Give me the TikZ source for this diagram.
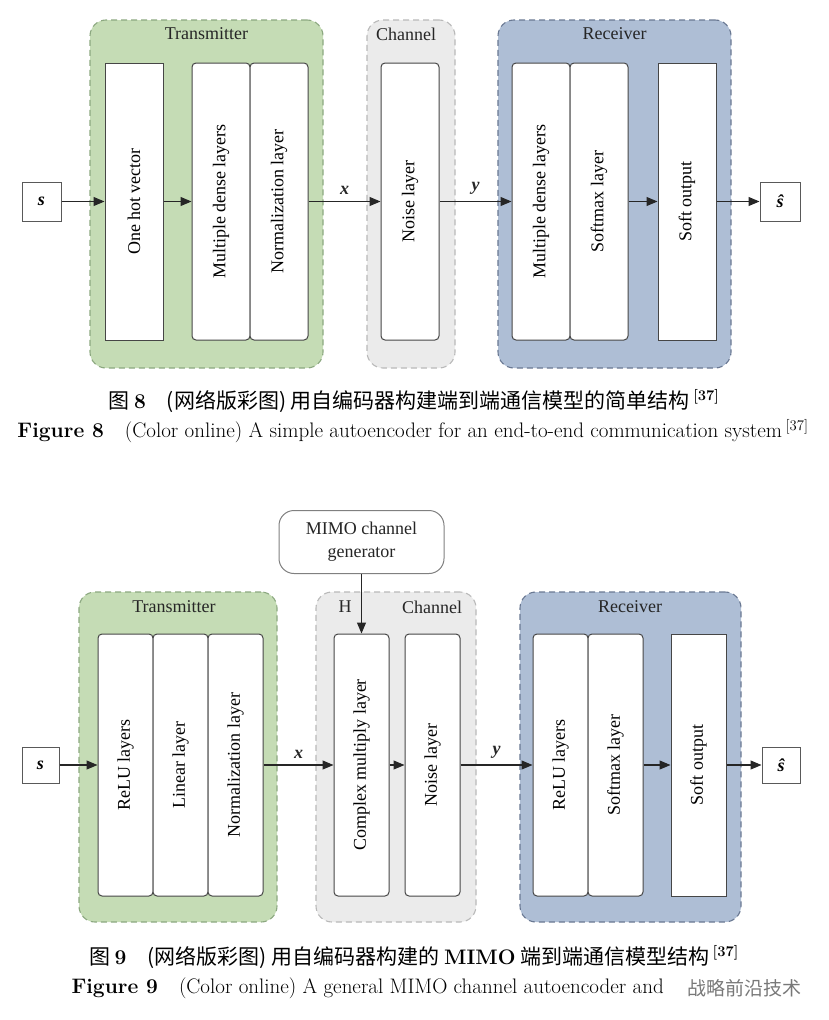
\documentclass[tikz,border=0pt]{standalone}
\usepackage{fontspec}
\usepackage{graphicx}
\usetikzlibrary{arrows.meta, positioning}
\newfontfamily\timesfont{Liberation Serif}
\newfontfamily\cjk{Noto Sans CJK SC}
\definecolor{txgreen}{RGB}{197, 220, 181}
\definecolor{txedge}{RGB}{140, 168, 128}
\definecolor{chgray}{RGB}{235, 235, 235}
\definecolor{chedge}{RGB}{185, 185, 185}
\definecolor{rxblue}{RGB}{174, 190, 213}
\definecolor{rxedge}{RGB}{105, 120, 146}
\definecolor{layeredge}{RGB}{70, 70, 70}
\definecolor{wmgray}{RGB}{120, 120, 120}

\begin{document}
\begin{tikzpicture}[
        x=1pt, y=-1pt,
        group/.style={rectangle, rounded corners=16pt, dash pattern=on 6pt off 4pt, line width=1.1pt, inner sep=0pt},
        txgroup/.style={group, draw=txedge, fill=txgreen},
        chgroup/.style={group, draw=chedge, fill=chgray},
        rxgroup/.style={group, draw=rxedge, fill=rxblue},
        title/.style={font=\timesfont\fontsize{18}{20}\selectfont, text=black!85},
        layer/.style={rectangle, draw=layeredge, fill=white, line width=1pt, rounded corners=4pt, inner sep=0pt, font=\timesfont\fontsize{18}{20}\selectfont},
        sharplayer/.style={layer, sharp corners},
        sym/.style={rectangle, draw=black!65, fill=white, line width=1pt, inner sep=0pt, font=\timesfont\bfseries\itshape\fontsize{18}{20}\selectfont},
        arr/.style={-{Triangle[length=11pt, width=9pt]}, line width=1.1pt, black!85},
        vlabel/.style={font=\timesfont\bfseries\itshape\fontsize{18}{20}\selectfont}
      ]
        \useasboundingbox (0,0) rectangle (828,1020);

        % Figure 8
        \node[txgroup, minimum width=233pt, minimum height=348pt] (txA) at (206.5,194) {};
        \node[chgroup, minimum width=88pt, minimum height=348pt] (chA) at (411,194) {};
        \node[rxgroup, minimum width=233pt, minimum height=348pt] (rxA) at (614.5,194) {};
        \node[title] (txAlbl) at (206.5,34) {Transmitter};
        \node[title] (chAlbl) at (406,34) {Channel};
        \node[title] (rxAlbl) at (614.5,34) {Receiver};

        \node[sym, minimum width=39pt, minimum height=39pt] (sA) at (41.5,201.5) {s};
        \node[sharplayer, minimum width=58pt, minimum height=277pt] (onehot) at (134,201.5) {\rotatebox{90}{One hot vector}};
        \node[layer, minimum width=58pt, minimum height=277pt] (denseA) at (221,201.5) {\rotatebox{90}{Multiple dense layers}};
        \node[layer, minimum width=58pt, minimum height=277pt] (normA) at (279,201.5) {\rotatebox{90}{Normalization layer}};
        \node[layer, minimum width=58pt, minimum height=277pt] (noiseA) at (410,201.5) {\rotatebox{90}{Noise layer}};
        \node[layer, minimum width=58pt, minimum height=277pt] (rdenseA) at (541,201.5) {\rotatebox{90}{Multiple dense layers}};
        \node[layer, minimum width=58pt, minimum height=277pt] (softmaxA) at (599,201.5) {\rotatebox{90}{Softmax layer}};
        \node[sharplayer, minimum width=58pt, minimum height=277pt] (softoutA) at (687,201.5) {\rotatebox{90}{Soft output}};
        \node[sym, minimum width=40pt, minimum height=39pt] (shatA) at (780,201.5) {\^{s}};

        \draw[arr] (sA) -- (onehot);
        \draw[arr] (onehot) -- (denseA);
        \draw[arr] (normA) -- node[vlabel, above=3pt] {x} (noiseA);
        \draw[arr] (noiseA) -- node[vlabel, above=3pt] {y} (rdenseA);
        \draw[arr] (softmaxA) -- (softoutA);
        \draw[arr] (softoutA) -- (shatA);

        \node[font=\cjk\fontsize{21}{24}\selectfont] (capAcn) at (414,401)
          {图 {\rmfamily\bfseries 8}\quad (网络版彩图) 用自编码器构建端到端通信模型的简单结构\,\textsuperscript{\rmfamily\bfseries [37]}};
        \node[font=\fontsize{21}{24}\selectfont] (capAen) at (413,431)
          {\textbf{Figure 8}\quad (Color online) A simple autoencoder for an end-to-end communication system\,\textsuperscript{[37]}};

        % Figure 9
        \node[txgroup, minimum width=198pt, minimum height=330pt] (txB) at (178,757) {};
        \node[chgroup, minimum width=160pt, minimum height=330pt] (chB) at (396,757) {};
        \node[rxgroup, minimum width=221pt, minimum height=330pt] (rxB) at (630.5,757) {};
        \node[title] (txBlbl) at (174,607) {Transmitter};
        \node[title] (hBlbl) at (345,607) {H};
        \node[title] (chBlbl) at (432,607) {Channel};
        \node[title] (rxBlbl) at (630,607) {Receiver};

        \node[rectangle, draw=black!50, fill=white, rounded corners=15pt, line width=1pt, minimum width=165pt, minimum height=63pt, align=center, title] (mimo) at (361.5,542) {MIMO channel\\[3pt]generator};

        \node[sym, minimum width=37pt, minimum height=36pt] (sB) at (40.5,765) {s};
        \node[layer, minimum width=55pt, minimum height=262pt] (reluB) at (125.5,765) {\rotatebox{90}{ReLU layers}};
        \node[layer, minimum width=55pt, minimum height=262pt] (linB) at (180.5,765) {\rotatebox{90}{Linear layer}};
        \node[layer, minimum width=55pt, minimum height=262pt] (normB) at (235.5,765) {\rotatebox{90}{Normalization layer}};
        \node[layer, minimum width=55pt, minimum height=262pt] (cmul) at (361.5,765) {\rotatebox{90}{Complex multiply layer}};
        \node[layer, minimum width=55pt, minimum height=262pt] (noiseB) at (432.5,765) {\rotatebox{90}{Noise layer}};
        \node[layer, minimum width=55pt, minimum height=262pt] (rreluB) at (560.5,765) {\rotatebox{90}{ReLU layers}};
        \node[layer, minimum width=55pt, minimum height=262pt] (softmaxB) at (615.5,765) {\rotatebox{90}{Softmax layer}};
        \node[sharplayer, minimum width=55pt, minimum height=262pt] (softoutB) at (698.5,765) {\rotatebox{90}{Soft output}};
        \node[sym, minimum width=38pt, minimum height=36pt] (shatB) at (781,765) {\^{s}};

        \draw[arr] (sB) -- (reluB);
        \draw[arr] (normB) -- node[vlabel, above=3pt] {x} (cmul);
        \draw[arr] (mimo) -- (cmul);
        \draw[arr] (cmul) -- (noiseB);
        \draw[arr] (noiseB) -- node[vlabel, above=3pt] {y} (rreluB);
        \draw[arr] (softmaxB) -- (softoutB);
        \draw[arr] (softoutB) -- (shatB);

        \node[font=\cjk\fontsize{21}{24}\selectfont] (capBcn) at (414,957)
          {图 {\rmfamily\bfseries 9}\quad (网络版彩图) 用自编码器构建的 {\rmfamily\bfseries MIMO} 端到端通信模型结构\,\textsuperscript{\rmfamily\bfseries [37]}};
        \node[font=\fontsize{21}{24}\selectfont, anchor=west] (capBen) at (68,988)
          {\textbf{Figure 9}\quad (Color online) A general MIMO channel autoencoder and};
        \node[font=\cjk\fontsize{19}{22}\selectfont, text=wmgray, anchor=west] (wmark) at (684,988) {战略前沿技术};
      \end{tikzpicture}
\end{document}
